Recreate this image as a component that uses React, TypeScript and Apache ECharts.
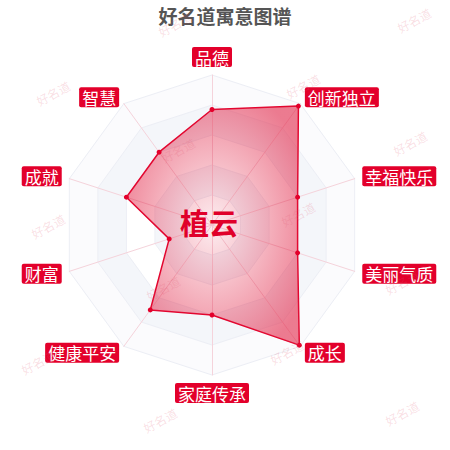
import React, { useEffect, useRef } from 'react';
import * as echarts from 'echarts';

// 维度名称（按 ECharts 雷达图逆时针顺序，从顶部开始）
const indicatorNames = ['品德', '智慧', '成就', '财富', '健康平安', '家庭传承', '成长', '美丽气质', '幸福快乐', '创新独立'];
// 各维度得分
const scores = [77, 60, 60, 30, 70, 60, 99, 60, 60, 98];
const maxScore = 100;

const titleText = '好名道寓意图谱';
const nameText = '植云';
const watermarkText = '好名道';

// 水印位置
const watermarkSpots: [number, number][] = [
  [175, 24], [414, 20],
  [53, 93], [303, 86],
  [178, 150], [410, 143],
  [48, 226], [298, 214],
  [163, 288], [402, 282],
  [38, 362], [287, 352],
  [160, 420], [402, 413],
];

const RED = '#e3002b';

const App: React.FC = () => {
  const chartRef = useRef<HTMLDivElement>(null);

  useEffect(() => {
    if (!chartRef.current) return;
    const chart = echarts.init(chartRef.current, null, { renderer: 'svg' });

    const options: any = {
      animation: false,
      backgroundColor: '#ffffff',
      title: {
        text: titleText,
        left: 'center',
        top: 1,
        textStyle: {
          fontSize: 19,
          fontWeight: 'bold',
          color: '#555555',
          fontFamily: 'Noto Sans CJK SC',
        },
      },
      radar: {
        center: [212, 225],
        radius: 150,
        shape: 'polygon',
        splitNumber: 5,
        axisNameGap: 8,
        indicator: indicatorNames.map((name) => ({ name, max: maxScore })),
        axisName: {
          color: '#ffffff',
          backgroundColor: RED,
          borderRadius: 2,
          padding: [2, 3],
          fontSize: 17,
          lineHeight: 16,
          fontFamily: 'Noto Sans CJK SC',
        },
        axisLine: { lineStyle: { color: '#f5d3db', width: 1 } },
        splitLine: { lineStyle: { color: '#eceef5', width: 1 } },
        splitArea: {
          show: true,
          areaStyle: { color: ['#ffffff', '#f4f6fa', '#ffffff', '#f4f6fa', '#fbfbfd'] },
        },
      },
      series: [
        {
          type: 'radar',
          symbol: 'circle',
          symbolSize: 5,
          itemStyle: { color: RED },
          lineStyle: { color: RED, width: 1.5 },
          areaStyle: {
            color: new echarts.graphic.RadialGradient(0.5, 0.5, 0.6, [
              { offset: 0, color: 'rgba(225, 30, 65, 0.08)' },
              { offset: 1, color: 'rgba(225, 30, 65, 0.58)' },
            ]),
            opacity: 1,
          },
          data: [{ value: scores, name: nameText }],
        },
      ],
      graphic: [
        {
          type: 'text',
          x: 209,
          y: 222,
          z: 10,
          silent: true,
          style: {
            text: nameText,
            fill: '#e0002a',
            fontSize: 29,
            fontWeight: 'bold',
            fontFamily: 'Noto Sans CJK SC',
            align: 'center',
            verticalAlign: 'middle',
          },
        },
        ...watermarkSpots.map(([x, y]) => ({
          type: 'text',
          x,
          y,
          rotation: 0.5,
          z: 20,
          silent: true,
          style: {
            text: watermarkText,
            fill: 'rgba(225, 90, 115, 0.2)',
            fontSize: 12,
            fontFamily: 'Noto Sans CJK SC',
            align: 'center',
            verticalAlign: 'middle',
          },
        })),
      ],
    };

    chart.setOption(options);

    return () => {
      chart.dispose();
    };
  }, []);

  return (
    <div
      ref={chartRef}
      style={{ position: 'fixed', left: 0, top: 0, width: '450px', height: '450px' }}
    />
  );
};

export default App;
